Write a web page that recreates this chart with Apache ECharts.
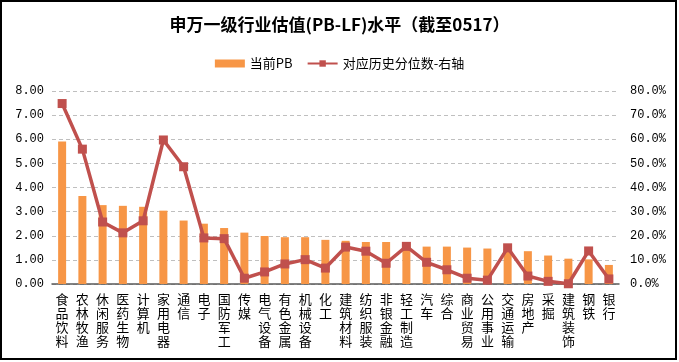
<!DOCTYPE html>
<html><head><meta charset="utf-8">
<script src="https://cdn.jsdelivr.net/npm/echarts@6/dist/echarts.min.js"></script>
<style>html,body{margin:0;padding:0;background:#fff}#c{width:679px;height:362px}</style>
</head><body><div id="c"></div>
<script>
var categories = ['食品饮料','农林牧渔','休闲服务','医药生物','计算机','家用电器','通信','电子','国防军工','传媒','电气设备','有色金属','机械设备','化工','建筑材料','纺织服装','非银金融','轻工制造','汽车','综合','商业贸易','公用事业','交通运输','房地产','采掘','建筑装饰','钢铁','银行'];
var pbValues = [5.91,3.65,3.27,3.24,3.20,3.04,2.63,2.50,2.32,2.13,1.99,1.94,1.94,1.83,1.79,1.74,1.74,1.74,1.55,1.55,1.51,1.47,1.45,1.36,1.18,1.05,1.02,0.79];
var pctValues = [74.8,55.9,25.7,21.2,26.2,59.7,48.6,19.1,18.8,2.4,5.0,8.3,10.1,6.6,15.3,13.6,8.6,15.6,9.0,5.9,2.4,1.6,15.0,3.3,1.1,0.1,13.7,2.1];
var leftTicks = {min:0,max:8,interval:1};
var rightTicks = {min:0,max:80,interval:10};

var chart = echarts.init(document.getElementById('c'));
var cjk = '"Noto Sans CJK SC", sans-serif';
var mono = '"Liberation Mono", monospace';
chart.setOption({
  animation:false,
  backgroundColor:'#fff',
  title:{text:'申万一级行业估值(PB-LF)水平（截至0517）',left:'center',top:11,
    textStyle:{fontFamily:cjk,fontSize:17,fontWeight:'bold',color:'#000'}},
  legend:{top:52,left:'center',itemGap:14,itemWidth:30,itemHeight:8,
    textStyle:{fontFamily:cjk,fontSize:13,color:'#000'},
    data:[{name:'当前PB',icon:'rect'},{name:'对应历史分位数-右轴'}]},
  grid:{left:52,right:60,top:91,bottom:78},
  xAxis:{type:'category',data:categories,
    axisLine:{lineStyle:{color:'#595959',width:1.5}},
    axisTick:{show:false},
    axisLabel:{interval:0,margin:8,fontFamily:cjk,fontSize:13,lineHeight:14,color:'#000',
      formatter:function(v){return v.split('').join('\n');}}},
  yAxis:[
    {type:'value',min:leftTicks.min,max:leftTicks.max,interval:leftTicks.interval,
     axisLine:{show:false},axisTick:{show:false},
     splitLine:{lineStyle:{color:'#bfbfbf',type:[4,3]}},
     axisLabel:{margin:8,fontFamily:mono,fontSize:12,color:'#000',
       formatter:function(v){return v.toFixed(2);}}},
    {type:'value',min:rightTicks.min,max:rightTicks.max,interval:rightTicks.interval,
     axisLine:{show:false},axisTick:{show:false},splitLine:{show:false},
     axisLabel:{margin:11,fontFamily:mono,fontSize:12,color:'#000',
       formatter:function(v){return v.toFixed(1)+'%';}}}
  ],
  series:[
    {name:'当前PB',type:'bar',data:pbValues,barWidth:8,yAxisIndex:0,
     itemStyle:{color:'#F79646'}},
    {name:'对应历史分位数-右轴',type:'line',data:pctValues,yAxisIndex:1,
     symbol:'rect',symbolSize:9,lineStyle:{color:'#C0504D',width:3.5},
     itemStyle:{color:'#C0504D'}}
  ],
  graphic:[{type:'rect',shape:{x:1,y:1,width:675,height:358},
    style:{fill:null,stroke:'#000',lineWidth:2},z:100}]
});
</script></body></html>
